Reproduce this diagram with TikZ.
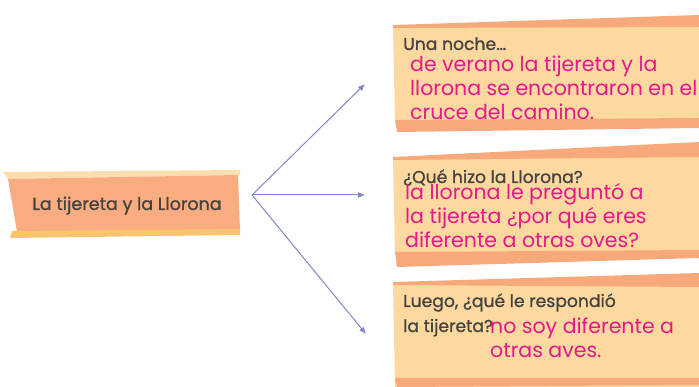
\documentclass[tikz,border=0pt]{standalone}
\usepackage{fontspec}
\setmainfont{Poppins}
\newfontfamily\darkfont[FakeBold=1]{Poppins}
\usetikzlibrary{arrows.meta}

\definecolor{salmon}{HTML}{F7A97B}
\definecolor{cardfill}{HTML}{FDD89F}
\definecolor{titlefill}{HTML}{F8AC80}
\definecolor{topstripe}{HTML}{FCDDB0}
\definecolor{lowstripe}{HTML}{F9C46E}
\definecolor{linkblue}{HTML}{7D87C6}
\definecolor{inkpink}{HTML}{E8188B}
\definecolor{inkgray}{HTML}{45423F}

\begin{document}
\begin{tikzpicture}[
  x=1pt, y=-1pt,
  question/.style={anchor=base west, inner sep=0pt, text=inkgray, align=left,
    font=\darkfont\fontsize{17.2}{25}\selectfont},
  answer/.style={anchor=base west, inner sep=0pt, text=inkpink, align=left,
    font=\fontsize{20.5}{24}\selectfont},
  link/.style={-{Latex[length=7pt,width=6pt]}, linkblue, line width=1pt}
]
\useasboundingbox (0,0) rectangle (699,387);

% Title banner
\fill[topstripe] (3,172) -- (240,170) -- (240,175) -- (8,179) -- cycle;
\fill[titlefill] (8,179) -- (238,175) -- (240,231) -- (17,232) -- cycle;
\fill[lowstripe] (12,231) -- (240,229) -- (240,235) -- (10,238) -- cycle;

% Cards
\fill[cardfill] (393,27) -- (699,24) -- (699,120) -- (395,122) -- cycle;
\fill[salmon] (393,25) -- (699,15) -- (699,27) -- (393,28) -- cycle;
\fill[salmon] (395,120) -- (699,118) -- (699,128) -- (397,132) -- cycle;

\fill[cardfill] (393,159) -- (699,155) -- (699,252) -- (395,253) -- cycle;
\fill[salmon] (393,157) -- (699,142) -- (699,157) -- (393,160) -- cycle;
\fill[salmon] (395,252) -- (699,250) -- (699,258) -- (397,267) -- cycle;

\fill[cardfill] (393,284) -- (699,285) -- (699,387) -- (395,387) -- cycle;
\fill[salmon] (393,282) -- (699,273) -- (699,287) -- (393,285) -- cycle;
\fill[salmon] (395,378) -- (699,378) -- (699,385) -- (397,387) -- cycle;

% Nodes
\node[anchor=base, inner sep=0pt, text=inkgray, font=\darkfont\fontsize{17.5}{19}\selectfont]
  (tema) at (127,210) {La tijereta y la Llorona};

\node[question] (noche) at (403,50) {Una noche\ldots};
\node[answer] (verano) at (410,120) {de verano la tijereta y la\\llorona se encontraron en el\\cruce del camino.};

\node[question] (hizo) at (403,183) {¿Qué hizo la Llorona?};
\node[answer] (pregunto) at (405,248) {la llorona le preguntó a\\la tijereta ¿por qué eres\\diferente a otras oves?};

\node[question] (luego) at (403,332) {Luego, ¿qué le respondió\\la tijereta?};
\node[answer] (responde) at (490,357) {no soy diferente a\\otras aves.};

% Edges
\coordinate (fork) at (252,195);
\coordinate (tip1) at (365,84);
\coordinate (tip2) at (365,195);
\coordinate (tip3) at (366,334);
\draw[link] (fork) -- (tip1);
\draw[link] (fork) -- (tip2);
\draw[link] (fork) -- (tip3);

\end{tikzpicture}
\end{document}
